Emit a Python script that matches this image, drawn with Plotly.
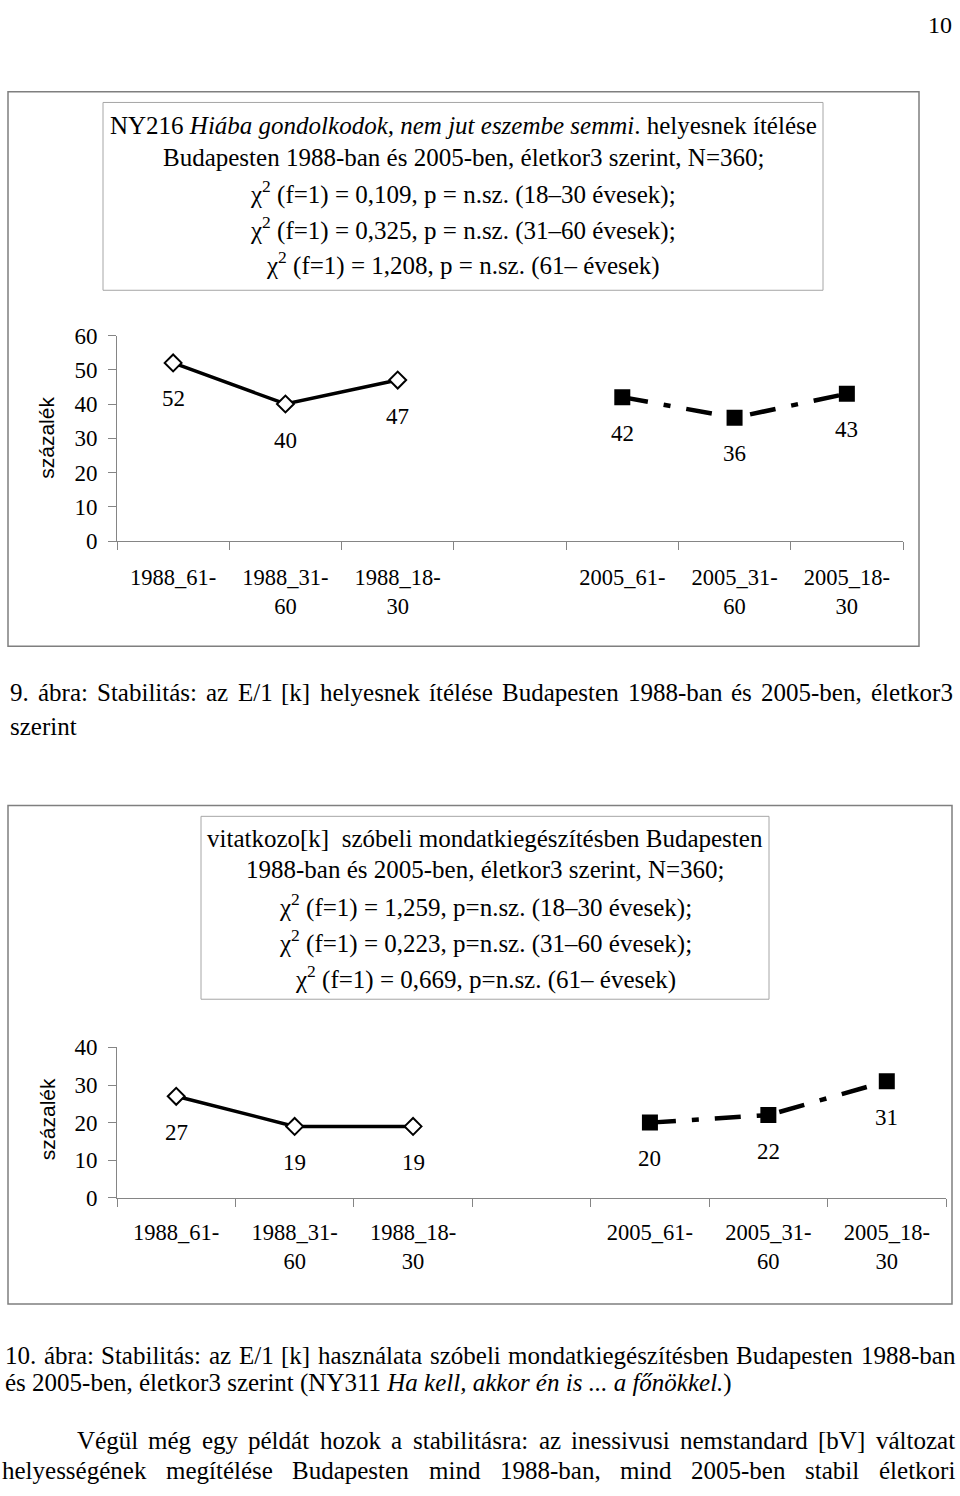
import plotly.graph_objects as go

# ---------------- data ----------------
categories = ["1988_61-", "1988_31-<br>60", "1988_18-<br>30", " ",
              "2005_61-", "2005_31-<br>60", "2005_18-<br>30"]
cats_1988 = categories[0:3]
cats_2005 = categories[4:7]

chart1_1988 = [52, 40, 47]
chart1_2005 = [42, 36, 43]
chart2_1988 = [27, 19, 19]
chart2_2005 = [20, 22, 31]

y1_ticks = [0, 10, 20, 30, 40, 50, 60]
y2_ticks = [0, 10, 20, 30, 40]

title1_lines = [
    "NY216 <i>Hiába gondolkodok, nem jut eszembe semmi</i>. helyesnek ítélése",
    "Budapesten 1988-ban és 2005-ben, életkor3 szerint, N=360;",
    "χ<sup>2</sup> (f=1) = 0,109, p = n.sz. (18–30 évesek);",
    "χ<sup>2</sup> (f=1) = 0,325, p = n.sz. (31–60 évesek);",
    "χ<sup>2</sup> (f=1) = 1,208, p = n.sz. (61– évesek)",
]
title2_lines = [
    "vitatkozo[k]\u00a0 szóbeli mondatkiegészítésben Budapesten",
    "1988-ban és 2005-ben, életkor3 szerint, N=360;",
    "χ<sup>2</sup> (f=1) = 1,259, p=n.sz. (18–30 évesek);",
    "χ<sup>2</sup> (f=1) = 0,223, p=n.sz. (31–60 évesek);",
    "χ<sup>2</sup> (f=1) = 0,669, p=n.sz. (61– évesek)",
]
caption9 = ["9. ábra: Stabilitás: az E/1 [k] helyesnek ítélése Budapesten 1988-ban és 2005-ben, életkor3",
            "szerint"]
caption10 = ["10. ábra: Stabilitás: az E/1 [k] használata szóbeli mondatkiegészítésben Budapesten 1988-ban",
             "és 2005-ben, életkor3 szerint (NY311 <i>Ha kell, akkor én is ... a főnökkel.</i>)"]
paragraph = ["Végül még egy példát hozok a stabilitásra: az inessivusi nemstandard [bV] változat",
             "helyességének megítélése Budapesten mind 1988-ban, mind 2005-ben stabil életkori"]

# ---------------- helpers ----------------
W, H = 960, 1496
SERIF = "Liberation Serif, Times New Roman, serif"
SANS = "Liberation Sans, Arial, sans-serif"
BODY = 25      # body text size
CHART = 22.5   # chart label size

# approximate Times New Roman advance widths (per 1000 em), used only to justify lines
TW = {" ": 250, "a": 444, "b": 500, "c": 444, "d": 500, "e": 444, "f": 333, "g": 500,
      "h": 500, "i": 278, "j": 278, "k": 500, "l": 278, "m": 778, "n": 500, "o": 500,
      "p": 500, "q": 500, "r": 333, "s": 389, "t": 278, "u": 500, "v": 500, "w": 722,
      "x": 500, "y": 500, "z": 444, ".": 250, ",": 250, ":": 278, ";": 278, "[": 333,
      "]": 333, "/": 278, "-": 333, "(": 333, ")": 333, "E": 611, "S": 556, "B": 667,
      "N": 722, "Y": 722, "H": 722, "V": 722, "á": 444, "é": 444, "í": 278, "ó": 500,
      "ü": 500, "ő": 500, "ö": 500, "=": 564}


def tw(word, size):
    return sum(TW.get(ch, 500) for ch in word) * size / 1000.0


def px(x):
    return x / W


def py(y):
    return 1 - y / H


annotations = []
shapes = []


def text(x, y, s, size=BODY, anchor="center", family=SERIF, angle=0):
    annotations.append(dict(
        x=px(x), y=py(y), xref="paper", yref="paper", text=s, showarrow=False,
        xanchor=anchor, yanchor="middle", textangle=angle,
        font=dict(family=family, size=size, color="black")))


def justified(x0, x1, y, s, size=BODY):
    words = s.split(" ")
    widths = [tw(w, size) for w in words]
    gap = (x1 - x0 - sum(widths)) / (len(words) - 1)
    x = x0
    for w, wd in zip(words, widths):
        text(x, y, w, size=size, anchor="left")
        x += wd + gap


def box(x0, y0, x1, y1, color, width):
    shapes.append(dict(type="rect", xref="paper", yref="paper",
                       x0=px(x0), x1=px(x1), y0=py(y1), y1=py(y0),
                       line=dict(color=color, width=width), fillcolor="rgba(0,0,0,0)"))


# ---------------- figure ----------------
fig = go.Figure()

line_1988 = dict(color="black", width=3.5)
line_2005 = dict(color="black", width=4.5, dash="26px,16px,7px,16px")
mk_1988 = dict(symbol="diamond", size=13, color="white", line=dict(color="black", width=2))
mk_2005 = dict(symbol="square", size=16, color="black", line=dict(color="black", width=0))

for xa, ya, v88, v05 in [("x", "y", chart1_1988, chart1_2005),
                         ("x2", "y2", chart2_1988, chart2_2005)]:
    fig.add_trace(go.Scatter(x=cats_1988, y=v88, xaxis=xa, yaxis=ya, mode="lines+markers",
                             line=line_1988, marker=mk_1988, showlegend=False, hoverinfo="skip"))
    fig.add_trace(go.Scatter(x=cats_2005, y=v05, xaxis=xa, yaxis=ya, mode="lines+markers",
                             line=line_2005, marker=mk_2005, showlegend=False, hoverinfo="skip"))
    for c, v in list(zip(cats_1988, v88)) + list(zip(cats_2005, v05)):
        annotations.append(dict(x=c, y=v, xref=xa, yref=ya, text=str(v), showarrow=False,
                                yshift=-36, xanchor="center", yanchor="middle",
                                font=dict(family=SERIF, size=23, color="black")))

AXC = "#858585"
xcommon = dict(type="category", categoryorder="array", categoryarray=categories,
               range=[-0.5, 6.5], showline=True, linecolor=AXC, linewidth=1,
               ticks="outside", tickson="boundaries", ticklen=8, tickcolor=AXC,
               showgrid=False, zeroline=False,
               tickfont=dict(family=SERIF, size=CHART, color="black"), fixedrange=True)
ycommon = dict(showline=True, linecolor=AXC, linewidth=1, ticks="outside", ticklen=8,
               tickcolor=AXC, showgrid=False, zeroline=False, ticklabelstandoff=6,
               tickfont=dict(family=SERIF, size=23, color="black"), fixedrange=True)

fig.update_layout(
    width=W, height=H, margin=dict(l=0, r=0, t=0, b=0),
    paper_bgcolor="white", plot_bgcolor="rgba(0,0,0,0)", showlegend=False,
    xaxis=dict(domain=[px(117), px(903)], anchor="y", ticklabelstandoff=16, **xcommon),
    yaxis=dict(domain=[py(538), py(329)], anchor="x", range=[0, 60],
               tickvals=y1_ticks, **ycommon),
    xaxis2=dict(domain=[px(117), px(946)], anchor="y2", ticklabelstandoff=14, **xcommon),
    yaxis2=dict(domain=[py(1206), py(1053)], anchor="x2", range=[0, 40],
                tickvals=y2_ticks, **ycommon),
)

# page number
text(940, 13, "10", size=24)

# chart 1 frame and title box
box(8, 81, 919, 645, "#7f7f7f", 1.5)
box(103, 92, 823, 283, "#a6a6a6", 1)
for yy, s in zip([115, 148, 184, 220, 256], title1_lines):
    text(463, yy, s)
text(47, 433, "százalék", size=21, family=SANS, angle=-90)

# caption 9
justified(8, 951, 692, caption9[0])
text(8, 727, caption9[1], anchor="left")

# chart 2 frame and title box
box(8, 807, 952, 1314, "#7f7f7f", 1.5)
box(201, 818, 769, 1004, "#a6a6a6", 1)
for yy, s in zip([841, 872, 909, 945, 982], title2_lines):
    text(485, yy, s)
text(47, 1126, "százalék", size=21, family=SANS, angle=-90)

# caption 10 and paragraph
justified(3, 953, 1366, caption10[0])
text(3, 1394, caption10[1], anchor="left")
justified(75, 953, 1453, paragraph[0])
justified(0, 953, 1483, paragraph[1])

fig.update_layout(annotations=annotations, shapes=shapes)
fig.write_html("out.html", config={"displayModeBar": False, "staticPlot": True},
               post_script="document.body.style.margin='0px';")
